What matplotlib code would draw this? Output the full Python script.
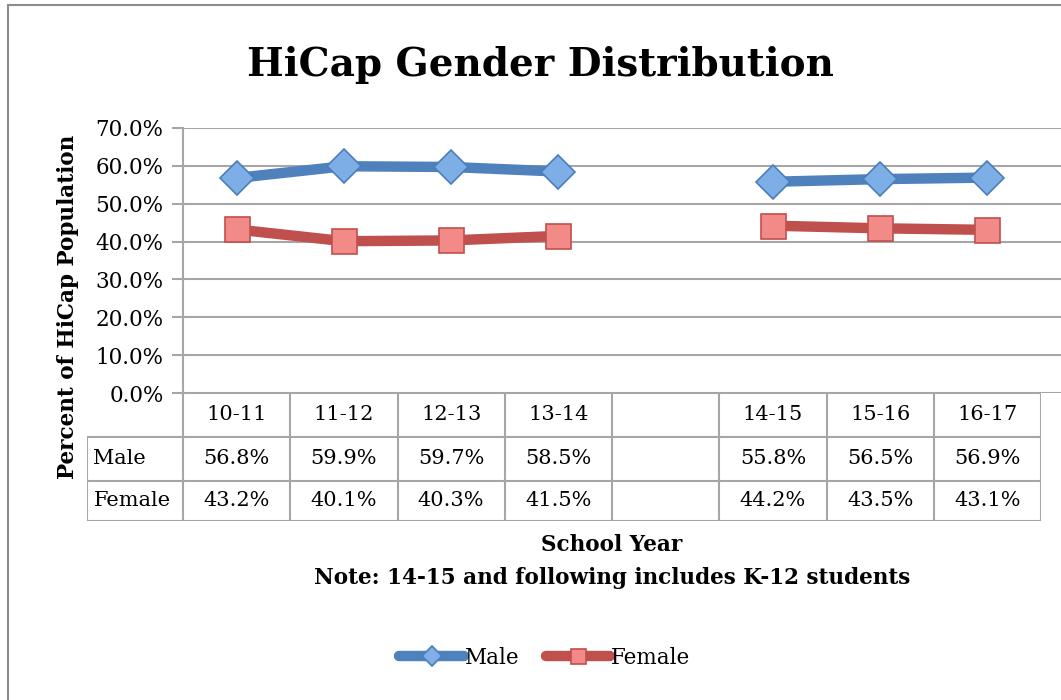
import matplotlib.pyplot as plt
from matplotlib.patches import Rectangle
import numpy as np

# data
years = ["10-11", "11-12", "12-13", "13-14", "", "14-15", "15-16", "16-17"]
male = [56.8, 59.9, 59.7, 58.5, np.nan, 55.8, 56.5, 56.9]
female = [43.2, 40.1, 40.3, 41.5, np.nan, 44.2, 43.5, 43.1]
series_names = ["Male", "Female"]

W, H = 1061, 700
plt.rcParams['font.family'] = ['DejaVu Serif']
fig = plt.figure(figsize=(W / 100, H / 100), dpi=100)

def fx(px):
    return px / W

def fy(py):
    return 1 - py / H

grid_c = "#a6a6a6"
blue_line, blue_face, blue_edge = "#4f81bd", "#7eaee6", "#4a7ebb"
red_line, red_face, red_edge = "#c0504d", "#f28b88", "#c0504d"

# outer frame
fig.patches.append(Rectangle((fx(8), fy(720)), fx(1100), 720 / H - 5 / H,
                             transform=fig.transFigure, fill=False,
                             edgecolor="#8c8c8c", linewidth=1.5))

# main plot area
slot = 107.25
x0 = 183
ax = fig.add_axes([fx(x0), fy(393), fx(W - x0), (393 - 128) / H])
xs = np.arange(len(years))
ax.set_xlim(-0.5, -0.5 + (W - x0) / slot)
ax.set_ylim(0, 70)
ax.set_yticks(np.arange(0, 71, 10))
ax.set_yticklabels([f"{v:.1f}%" for v in np.arange(0, 71, 10)], fontsize=15.5)
ax.set_xticks([])
ax.grid(axis="y", color=grid_c, linewidth=1.5)
ax.set_axisbelow(True)
for s in ["top", "right", "bottom"]:
    ax.spines[s].set_visible(False)
ax.spines["left"].set_color(grid_c)
ax.spines["left"].set_linewidth(1.5)
ax.tick_params(axis="y", color=grid_c, width=1.5, length=8, pad=6)

ax.plot(xs, male, color=blue_line, linewidth=7.5, marker="D", markersize=17,
        markerfacecolor=blue_face, markeredgecolor=blue_edge, markeredgewidth=1.2,
        label=series_names[0], solid_capstyle="round")
ax.plot(xs, female, color=red_line, linewidth=7.5, marker="s", markersize=18,
        markerfacecolor=red_face, markeredgecolor=red_edge, markeredgewidth=1.2,
        label=series_names[1], solid_capstyle="round")

# data table below the plot
tx0 = 87
tab = fig.add_axes([fx(tx0), fy(521), fx(1041 - tx0), (521 - 393) / H])
tab.set_xlim(-0.5 - (x0 - tx0) / slot, len(years) - 0.5)
tab.set_ylim(521, 393)
tab.axis("off")
rows_y = [393, 437, 481, 521]
lw = 1.5
# horizontal lines
tab.plot([-0.5, len(years) - 0.5], [393, 393], color=grid_c, lw=lw)
for yy in rows_y[1:]:
    tab.plot([-0.5 - (x0 - tx0) / slot, len(years) - 0.5], [yy, yy], color=grid_c, lw=lw)
# vertical lines
for i in range(len(years) + 1):
    tab.plot([i - 0.5, i - 0.5], [393, 521], color=grid_c, lw=lw)
tab.plot([-0.5 - (x0 - tx0) / slot] * 2, [437, 521], color=grid_c, lw=lw)

fs = 15
for i, yr in enumerate(years):
    tab.text(i, 415, yr, ha="center", va="center", fontsize=fs)
    if not np.isnan(male[i]):
        tab.text(i, 459, f"{male[i]:.1f}%", ha="center", va="center", fontsize=fs)
        tab.text(i, 501, f"{female[i]:.1f}%", ha="center", va="center", fontsize=fs)
lab_x = -0.5 - (x0 - tx0) / slot + 0.06
tab.text(lab_x, 459, series_names[0], ha="left", va="center", fontsize=fs)
tab.text(lab_x, 501, series_names[1], ha="left", va="center", fontsize=fs)

# titles
fig.text(fx(540), fy(65), "HiCap Gender Distribution", ha="center", va="center",
         fontsize=28, fontweight="bold")
fig.text(fx(68), fy(307), "Percent of HiCap Population", ha="center", va="center",
         rotation=90, fontsize=15.5, fontweight="bold")
fig.text(fx(612), fy(545), "School Year", ha="center", va="center",
         fontsize=15.5, fontweight="bold")
fig.text(fx(612), fy(578), "Note: 14-15 and following includes K-12 students",
         ha="center", va="center", fontsize=15.5, fontweight="bold")

handles, labels = ax.get_legend_handles_labels()
leg = fig.legend(handles, labels, loc="center", bbox_to_anchor=(fx(545), fy(658)),
                 ncol=2, frameon=False, fontsize=15.5, handlelength=3.0,
                 columnspacing=1.2, handletextpad=0.05, markerscale=0.6)

fig.savefig("out.png", dpi=100)
